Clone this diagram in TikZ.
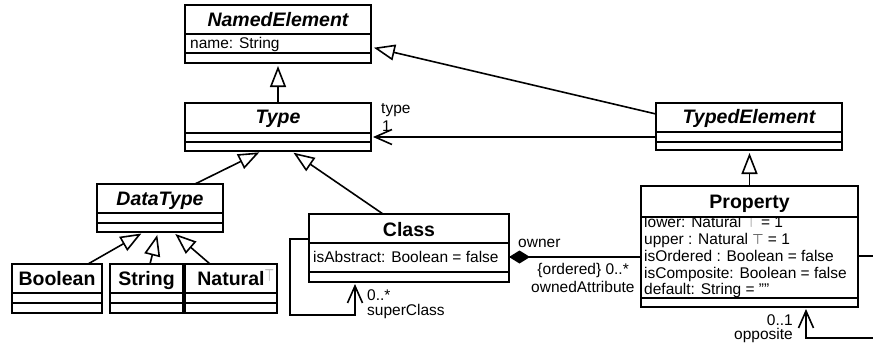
\documentclass[tikz,border=0pt]{standalone}
\usepackage{fontspec}
\setmainfont{Liberation Sans}
\usetikzlibrary{arrows.meta,calc}
\tikzset{
  box/.style={draw, line width=2pt, inner sep=0pt, outer sep=0pt},
  gen/.style={line width=1.6pt, shorten >=3pt, -{Triangle[open,length=21pt,width=16pt,fill=white]}},
  assoc/.style={line width=1.6pt, shorten >=2pt, -{Straight Barb[length=17pt,width=15pt]}},
  comp/.style={line width=1.6pt, {Diamond[length=21pt,width=13pt]}-},
  title/.style={font=\fontsize{19.5}{22}\selectfont\bfseries, anchor=base, inner sep=0pt},
  atitle/.style={font=\fontsize{19.5}{22}\selectfont\bfseries\itshape, anchor=base, inner sep=0pt},
  attr/.style={font=\fontsize{15.5}{17}\selectfont, anchor=base west, inner sep=0pt},
  lbl/.style={font=\fontsize{15.5}{17}\selectfont, anchor=base west, inner sep=0pt},
  lble/.style={font=\fontsize{15.5}{17}\selectfont, anchor=base east, inner sep=0pt},
}
\newcommand\compline[2]{\draw[line width=2pt] ([yshift=-#2pt]#1.north west) -- ([yshift=-#2pt]#1.north east);}
\newcommand\topsym{$\top$}
\begin{document}
\begin{tikzpicture}[x=1pt,y=-1pt]
\useasboundingbox (0,0) rectangle (873,348);

% class boxes
\node[box, minimum width=186pt, minimum height=58pt] (named) at (278,34) {};
\node[box, minimum width=186pt, minimum height=48pt] (type) at (278,127) {};
\node[box, minimum width=186pt, minimum height=47pt] (typed) at (749,126.5) {};
\node[box, minimum width=126pt, minimum height=48pt] (datatype) at (160,208) {};
\node[box, minimum width=90pt, minimum height=49pt] (boolean) at (57,288.5) {};
\node[box, minimum width=73pt, minimum height=49pt] (string) at (146.5,288.5) {};
\node[box, minimum width=92pt, minimum height=49pt] (natural) at (231,288.5) {};
\node[box, minimum width=200pt, minimum height=68pt] (class) at (409,248) {};
\node[box, minimum width=217pt, minimum height=121pt] (property) at (749.5,246.5) {};

% titles
\node[atitle] (tnamed) at (278,27) {NamedElement};
\node[atitle] (ttype) at (278,123) {Type};
\node[atitle] (ttyped) at (749,123) {TypedElement};
\node[atitle] (tdatatype) at (160,205) {DataType};
\node[title] (tboolean) at (57,285) {Boolean};
\node[title] (tstring) at (146.5,285) {String};
\node[title] (tnatural) at (231,285) {Natural\rlap{\raisebox{4pt}{\color{black!45}\fontsize{16}{16}\selectfont\mdseries\scalebox{0.7}[1]{\topsym}}}};
\node[title] (tclass) at (409,236) {Class};
\node[title] (tproperty) at (749.5,208) {Property};

% attributes
\node[attr] (aname) at (190,48) {name: String};
\node[attr] (aabstract) at (313,262) {isAbstract: Boolean = false};
\begin{scope}
\clip (641,218) rectangle (858,298);
\node[attr] (alower) at (644,227) {lower: Natural {\color{black!55}\topsym} = 1};
\node[attr] (aupper) at (644,244) {upper : Natural \topsym{} = 1};
\node[attr] (aordered) at (644,261) {isOrdered : Boolean = false};
\node[attr] (acomposite) at (644,278) {isComposite: Boolean = false};
\node[attr] (adefault) at (644,294.5) {default: String = ""};
\end{scope}

% compartment lines
\compline{named}{29}
\compline{named}{48}
\compline{type}{30}
\compline{type}{39}
\compline{typed}{29}
\compline{typed}{39}
\compline{datatype}{29}
\compline{datatype}{39}
\compline{boolean}{29}
\compline{boolean}{39}
\compline{string}{29}
\compline{string}{39}
\compline{natural}{29}
\compline{natural}{39}
\compline{class}{29}
\compline{class}{58}
\compline{property}{31}
\compline{property}{112}

% generalizations
\draw[gen] (type.north) -- (named.south);
\draw[gen] ([yshift=12.5pt]typed.west) -- ([yshift=-13pt]named.east);
\draw[gen] ([xshift=35pt]datatype.north) -- ([xshift=-16pt]type.south);
\draw[gen] ([xshift=-26pt]class.north) -- ([xshift=13pt]type.south);
\draw[gen] ([xshift=31pt]boolean.north) -- ([xshift=-16pt]datatype.south);
\draw[gen] ([xshift=3.5pt]string.north) -- ([xshift=-2pt]datatype.south);
\draw[gen] ([xshift=-21pt]natural.north) -- ([xshift=13pt]datatype.south);
\draw[gen] (property.north) -- (property.north |- typed.south);

% associations
\coordinate (typeL) at ([yshift=-10.5pt]typed.west);
\draw[assoc] (typeL) -- (typeL -| type.east);
\coordinate (compL) at ([yshift=-9pt]class.east);
\draw[comp] (compL) -- (compL -| property.west);
\draw[assoc] ([yshift=9pt]class.west) -- ++(-19,0) |- ([xshift=-54pt,yshift=-33pt]class.south) -- ([xshift=-54pt]class.south);
\draw[assoc] ([yshift=-9.5pt]property.east) -- ++(25,0) |- ([xshift=56.5pt,yshift=-31pt]property.south) -- ([xshift=56.5pt]property.south);

% labels
\node[lbl] (ltype) at (381,113) {type};
\node[lbl] (lone) at (382,131) {1};
\node[lbl] (lowner) at (518,247) {owner};
\node[lble] (lordered) at (629,274) {\{ordered\} 0..*};
\node[lbl] (lowned) at (531,292) {ownedAttribute};
\node[lbl] (lsmult) at (367,300) {0..*};
\node[lbl] (lsuper) at (367,315) {superClass};
\node[lble] (lomult) at (793,325) {0..1};
\node[lble] (lopp) at (793,339) {opposite};
\end{tikzpicture}
\end{document}
